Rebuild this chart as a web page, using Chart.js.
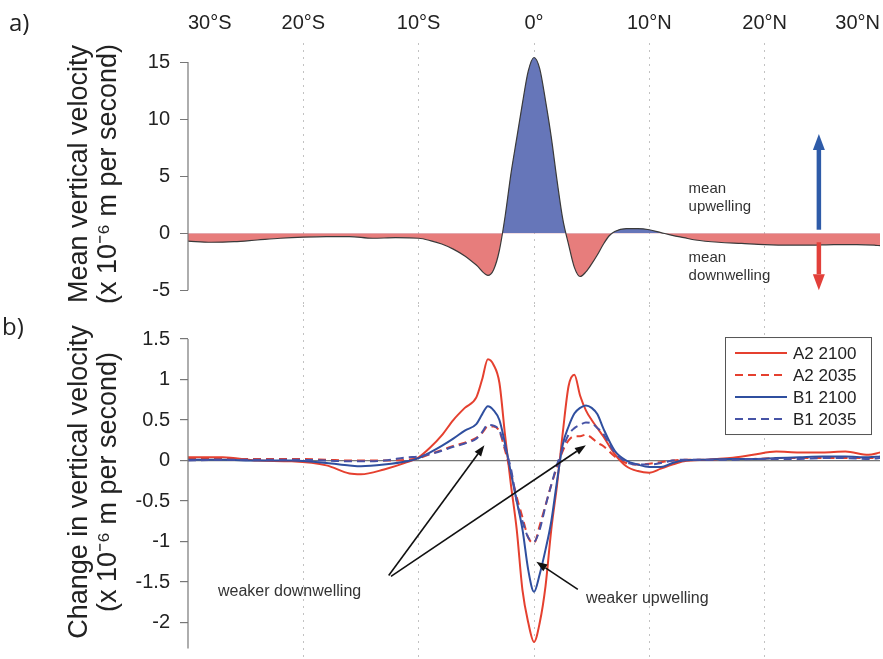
<!DOCTYPE html>
<html>
<head>
<meta charset="utf-8">
<script src="https://cdn.jsdelivr.net/npm/chart.js@4.4.1/dist/chart.umd.min.js"></script>
<style>
html, body { margin: 0; padding: 0; background: #fff; }
#wrap { position: relative; width: 883px; height: 659px; overflow: hidden; }
canvas { position: absolute; left: 0; }
#ca { top: 0; }
#cb { top: 305px; }
.lab { position: absolute; font-family: "Open Sans", sans-serif; font-size: 24px; color: #222; line-height: 1; }
</style>
</head>
<body>
<div id="wrap">
  <canvas id="ca" width="883" height="305"></canvas>
  <canvas id="cb" width="883" height="354"></canvas>
  <div class="lab" style="left:9px;top:10px">a)</div>
  <div class="lab" style="left:2px;top:314px">b)</div>
</div>
<script>
// latitude ticks shared by both panels
const latTicks = [-30, -20, -10, 0, 10, 20, 30];
const latLabels = ['30°S', '20°S', '10°S', '0°', '10°N', '20°N', '30°N'];

// panel a: mean vertical velocity
const latA = [-30,-28,-26,-24,-22,-20,-18,-16,-14,-12,-10,-9,-8,-7,-6,-5,-4,-3.5,-3,-2.5,-2,-1.5,-1,-0.5,0,0.5,1,1.5,2,2.5,3,3.5,4,4.5,5,5.5,6,6.5,7,8,9,10,11,12,13,14,16,18,20,22,24,26,28,29.5,30];
const meanVel = [-0.7,-0.8,-0.75,-0.6,-0.45,-0.35,-0.3,-0.3,-0.45,-0.4,-0.45,-0.65,-0.95,-1.4,-2.0,-2.8,-3.7,-3.2,-1.5,1.5,5.2,8.3,11.4,14.2,15.4,14.4,11.6,8.4,4.6,1.2,-1.0,-3.0,-3.8,-3.4,-2.7,-1.9,-1.0,-0.25,0.15,0.4,0.4,0.3,0.05,-0.2,-0.4,-0.6,-0.8,-0.9,-1.0,-1.05,-1.05,-1.0,-1.0,-1.05,-1.1];
const ticksA = [15, 10, 5, 0, -5];

// panel b: change in vertical velocity
const latB = [-30,-27,-24,-21,-18,-16,-15,-13,-11,-10,-9,-8,-7,-6,-5,-4.5,-4,-3.5,-3,-2.5,-2,-1.5,-1,-0.5,0,0.5,1,1.5,2,2.5,3,3.5,4,4.5,5,5.5,6,7,8,9,10,11,12,13,15,17,19,21,23,25,27,29,30];
const a2_2100 = [0.04,0.04,0.0,-0.01,-0.06,-0.16,-0.17,-0.11,-0.02,0.04,0.16,0.31,0.5,0.65,0.78,1.0,1.25,1.18,0.96,0.3,-0.3,-0.85,-1.6,-2.0,-2.24,-2.0,-1.55,-0.85,-0.3,0.35,0.92,1.06,0.8,0.62,0.5,0.4,0.3,0.08,-0.07,-0.13,-0.15,-0.1,-0.05,-0.01,0.01,0.03,0.07,0.11,0.1,0.1,0.11,0.07,0.1];
const a2_2035 = [0.02,0.02,0.02,0.02,0.01,0.0,0.0,0.0,0.01,0.03,0.08,0.13,0.18,0.22,0.28,0.34,0.42,0.42,0.36,0.12,-0.15,-0.45,-0.7,-0.95,-1.02,-0.8,-0.55,-0.3,-0.08,0.12,0.25,0.3,0.3,0.32,0.28,0.22,0.18,0.05,-0.03,-0.05,-0.04,-0.02,0.0,0.01,0.01,0.02,0.02,0.03,0.03,0.03,0.03,0.03,0.03];
const b1_2100 = [0.01,0.01,0.0,0.0,-0.03,-0.06,-0.07,-0.05,-0.01,0.03,0.1,0.18,0.27,0.37,0.45,0.57,0.67,0.62,0.5,0.2,-0.15,-0.5,-0.85,-1.35,-1.62,-1.4,-1.1,-0.75,-0.25,0.2,0.42,0.58,0.65,0.68,0.65,0.57,0.4,0.12,0.0,-0.05,-0.08,-0.08,-0.03,0.0,0.01,0.02,0.02,0.03,0.04,0.05,0.05,0.04,0.05];
const b1_2035 = [0.0,0.01,0.01,0.01,0.0,-0.01,-0.01,0.0,0.04,0.05,0.08,0.12,0.17,0.21,0.27,0.35,0.44,0.43,0.37,0.15,-0.1,-0.5,-0.75,-0.95,-1.0,-0.85,-0.56,-0.3,-0.05,0.15,0.32,0.4,0.44,0.47,0.46,0.4,0.33,0.1,-0.02,-0.05,-0.05,-0.03,0.0,0.01,0.01,0.01,0.02,0.02,0.02,0.03,0.03,0.02,0.03];
const ticksB = [1.5, 1, 0.5, 0, -0.5, -1, -1.5, -2];

const FONT = '"Liberation Sans", Arial, sans-serif';
const RED = '#e5402f';
const BLUE = '#2f4f9f';
const BLUE_DASH = '#4653a6';

const toXY = (xs, ys) => xs.map((x, i) => ({ x: x, y: ys[i] }));

function arrow(ctx, x1, y1, x2, y2, w, headLen, headW, color) {
  const ang = Math.atan2(y2 - y1, x2 - x1);
  const bx = x2 - headLen * Math.cos(ang), by = y2 - headLen * Math.sin(ang);
  ctx.save();
  ctx.strokeStyle = color; ctx.fillStyle = color; ctx.lineWidth = w;
  ctx.beginPath(); ctx.moveTo(x1, y1); ctx.lineTo(bx, by); ctx.stroke();
  ctx.beginPath(); ctx.moveTo(x2, y2);
  ctx.lineTo(bx + headW / 2 * Math.sin(ang), by - headW / 2 * Math.cos(ang));
  ctx.lineTo(bx - headW / 2 * Math.sin(ang), by + headW / 2 * Math.cos(ang));
  ctx.closePath(); ctx.fill();
  ctx.restore();
}

// y axis line only between the given values
const axisLine = {
  id: 'axisLine',
  afterDraw(chart, args, opts) {
    const y = chart.scales.y, ctx = chart.ctx, x = chart.chartArea.left;
    ctx.save();
    ctx.strokeStyle = '#777'; ctx.lineWidth = 1.2;
    ctx.beginPath();
    ctx.moveTo(x, y.getPixelForValue(opts.top));
    ctx.lineTo(x, y.getPixelForValue(opts.bottom));
    ctx.stroke();
    ctx.restore();
  }
};

// notes on panel a
const notesA = {
  id: 'notesA',
  afterDatasetsDraw(chart) {
    const { ctx, scales: { x, y } } = chart;
    const ax = x.getPixelForValue(24.7);
    arrow(ctx, ax, y.getPixelForValue(0.3), ax, y.getPixelForValue(8.7), 4.5, 16, 12, '#2e5ba8');
    arrow(ctx, ax, y.getPixelForValue(-0.8), ax, y.getPixelForValue(-5.0), 4.5, 16, 12, '#e2403a');
    ctx.save();
    ctx.font = '15px ' + FONT;
    ctx.fillStyle = '#333';
    ctx.textBaseline = 'alphabetic';
    const tx = x.getPixelForValue(13.4);
    ctx.fillText('mean', tx, y.getPixelForValue(3.5));
    ctx.fillText('upwelling', tx, y.getPixelForValue(1.9));
    ctx.fillText('mean', tx, y.getPixelForValue(-2.5));
    ctx.fillText('downwelling', tx, y.getPixelForValue(-4.1));
    ctx.restore();
  }
};

// notes and legend on panel b
const notesB = {
  id: 'notesB',
  afterDatasetsDraw(chart) {
    const { ctx, scales: { x, y }, chartArea } = chart;
    const px = (lx) => x.getPixelForValue(lx), py = (v) => y.getPixelForValue(v);
    ctx.save();
    ctx.font = '16px ' + FONT;
    ctx.fillStyle = '#333';
    ctx.fillText('weaker downwelling', px(-27.4), py(-1.67));
    ctx.fillText('weaker upwelling', px(4.5), py(-1.76));
    ctx.restore();
    arrow(ctx, px(-12.6), py(-1.42), px(-4.3), py(0.19), 1.6, 11, 8, '#111');
    arrow(ctx, px(-12.4), py(-1.43), px(4.5), py(0.19), 1.6, 11, 8, '#111');
    arrow(ctx, px(3.8), py(-1.59), px(0.2), py(-1.25), 1.6, 11, 8, '#111');

    // legend box
    const items = chart.data.datasets.slice().sort((a, b) => a.legendRank - b.legendRank);
    const bx = chartArea.right - 155, by = py(1.5) - 2, bw = 146, bh = 97;
    ctx.save();
    ctx.fillStyle = '#fff';
    ctx.fillRect(bx, by, bw, bh);
    ctx.strokeStyle = '#555'; ctx.lineWidth = 1;
    ctx.strokeRect(bx + 0.5, by + 0.5, bw, bh);
    ctx.font = '17px ' + FONT;
    ctx.textBaseline = 'middle';
    items.forEach((d, i) => {
      const ry = by + 16 + i * 22;
      ctx.strokeStyle = d.borderColor; ctx.lineWidth = 2;
      ctx.setLineDash(d.borderDash || []);
      ctx.beginPath(); ctx.moveTo(bx + 10, ry); ctx.lineTo(bx + 62, ry); ctx.stroke();
      ctx.setLineDash([]);
      ctx.fillStyle = '#222';
      ctx.fillText(d.label, bx + 68, ry + 1);
    });
    ctx.restore();
  }
};

const gridColor = (ctx) => (Math.abs(ctx.tick.value) === 30 ? 'rgba(0,0,0,0)' : '#c2c2c2');

const yTitleFont = { family: FONT, size: 27, lineHeight: 1.04 };
const tickFont = { family: FONT, size: 20 };
const fitY = (s) => { s.width = 188; s.paddingTop = 0; s.paddingBottom = 0; };

new Chart(document.getElementById('ca'), {
  type: 'line',
  data: {
    datasets: [{
      label: 'mean',
      data: toXY(latA, meanVel),
      borderColor: '#3a3a3a',
      borderWidth: 1.2,
      pointRadius: 0,
      cubicInterpolationMode: 'monotone',
      fill: { target: 'origin', above: '#6676b9', below: '#e77d7c' }
    }]
  },
  options: {
    responsive: false,
    animation: false,
    layout: { padding: { left: 0, right: 3, top: 0, bottom: 0 }, autoPadding: false },
    plugins: { legend: { display: false }, tooltip: { enabled: false }, axisLine: { top: 15, bottom: -5 } },
    scales: {
      x: {
        type: 'linear', position: 'top', min: -30, max: 30,
        afterBuildTicks: (s) => { s.ticks = latTicks.map((v) => ({ value: v })); },
        afterFit: (s) => { s.height = 43; s.paddingLeft = 0; s.paddingRight = 0; },
        ticks: {
          callback: (v) => latLabels[latTicks.indexOf(v)],
          font: tickFont, color: '#222', padding: 8, maxRotation: 0, autoSkip: false, align: 'inner'
        },
        grid: { color: gridColor, drawTicks: false },
        border: { display: false, dash: [2, 5] }
      },
      y: {
        min: -6.3, max: 16.67,
        afterBuildTicks: (s) => { s.ticks = ticksA.map((v) => ({ value: v })); },
        afterFit: fitY,
        ticks: { callback: (v) => String(v), font: tickFont, color: '#222', padding: 10 },
        grid: { drawOnChartArea: false, tickLength: 8, tickColor: '#777', color: '#777' },
        border: { display: false },
        title: {
          display: true,
          text: ['Mean vertical velocity', '(x 10\u207B\u2076 m per second)'],
          font: yTitleFont, color: '#222', padding: { top: 66, bottom: 0 }
        }
      }
    }
  },
  plugins: [axisLine, notesA]
});

new Chart(document.getElementById('cb'), {
  type: 'line',
  data: {
    datasets: [
      { label: 'B1 2035', legendRank: 3, data: toXY(latB, b1_2035), borderColor: BLUE_DASH, borderDash: [8, 5] },
      { label: 'B1 2100', legendRank: 2, data: toXY(latB, b1_2100), borderColor: BLUE },
      { label: 'A2 2035', legendRank: 1, data: toXY(latB, a2_2035), borderColor: RED, borderDash: [8, 5] },
      { label: 'A2 2100', legendRank: 0, data: toXY(latB, a2_2100), borderColor: RED }
    ].map((d) => Object.assign({ borderWidth: 2, pointRadius: 0, cubicInterpolationMode: 'monotone', fill: false }, d))
  },
  options: {
    responsive: false,
    animation: false,
    layout: { padding: { left: 0, right: 3, top: 0, bottom: 0 }, autoPadding: false },
    plugins: { legend: { display: false }, tooltip: { enabled: false }, axisLine: { top: 1.5, bottom: -2.32 } },
    scales: {
      x: {
        type: 'linear', min: -30, max: 30,
        afterBuildTicks: (s) => { s.ticks = latTicks.map((v) => ({ value: v })); },
        afterFit: (s) => { s.height = 0; s.paddingLeft = 0; s.paddingRight = 0; },
        ticks: { display: false },
        grid: { color: gridColor, drawTicks: false },
        border: { display: false, dash: [2, 5] }
      },
      y: {
        min: -2.45, max: 1.92,
        afterBuildTicks: (s) => { s.ticks = ticksB.map((v) => ({ value: v })); },
        afterFit: fitY,
        ticks: { callback: (v) => String(v), font: tickFont, color: '#222', padding: 10 },
        grid: {
          color: (ctx) => (ctx.tick.value === 0 ? '#777' : 'rgba(0,0,0,0)'),
          tickLength: 8, tickColor: '#777', lineWidth: 1.2
        },
        border: { display: false },
        title: {
          display: true,
          text: ['Change in vertical velocity', '(x 10\u207B\u2076 m per second)'],
          font: yTitleFont, color: '#222', padding: { top: 66, bottom: 0 }
        }
      }
    }
  },
  plugins: [axisLine, notesB]
});
</script>
</body>
</html>
